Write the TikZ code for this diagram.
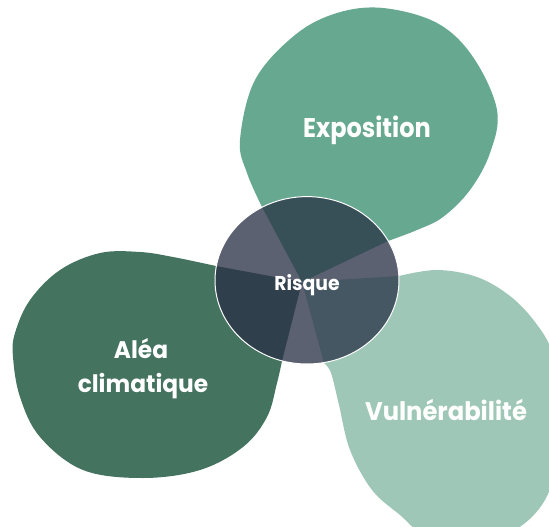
\documentclass[tikz,border=0pt]{standalone}
\usepackage{graphicx}
\usepackage{fontspec}
\setmainfont{Poppins}
\definecolor{expoC}{HTML}{66A890}
\definecolor{aleaC}{HTML}{44735F}
\definecolor{vulnC}{HTML}{9FC7B7}
\definecolor{riskC}{HTML}{5C6172}
\definecolor{riskExpoC}{HTML}{374F57}
\definecolor{riskAleaC}{HTML}{2F404C}
\definecolor{riskVulnC}{HTML}{455762}
\newcommand\pathexpo{(302,282) -- plot[smooth,tension=0.6] coordinates {(262,207) (247,173) (240,140) (255,80) (295,35) (337,13) (383,8) (437,23) (473,57) (497,110) (490,153) (470,190) (443,217) (417,230) (388,241)} -- cycle}
\newcommand\pathalea{(302,282) -- plot[smooth,tension=0.6] coordinates {(216,266) (173,257) (140,252) (100,253) (60,270) (30,300) (15,333) (13,357) (20,397) (40,437) (83,470) (143,478) (200,470) (243,447) (267,417) (277,383) (282,361)} -- cycle}
\newcommand\pathvuln{(302,282) -- plot[smooth,tension=0.6] coordinates {(399,276) (437,270) (477,277) (510,296) (535,322) (552,352) (560,400) (558,455) (545,500) (515,530) (470,545) (425,535) (400,515) (372,490) (350,450) (339,405) (331,373) (324,363)} -- cycle}
\tikzset{lbl/.style={text=white, inner sep=0pt, font=\bfseries}}
\begin{document}
\begin{tikzpicture}[x=1pt,y=-1pt]
\useasboundingbox (0,0) rectangle (549,527);
\clip (0,0) rectangle (549,527);
\fill[expoC] \pathexpo;
\fill[aleaC] \pathalea;
\fill[vulnC] \pathvuln;
\begin{scope}
\clip (307,280.3) ellipse [x radius=92, y radius=83.7];
\fill[riskC] (200,180) rectangle (420,380);
\fill[riskExpoC] \pathexpo;
\fill[riskAleaC] \pathalea;
\fill[riskVulnC] \pathvuln;
\end{scope}
\draw[white, line width=1pt] (307,280.3) ellipse [x radius=92, y radius=83.7];
\node[lbl, font=\bfseries\fontsize{27}{30}\selectfont, anchor=base] (expo) at (367,137.3) {\scalebox{0.89}[1]{Exposition}};
\node[lbl, font=\bfseries\fontsize{24}{28}\selectfont, anchor=base] (alea1) at (141,358) {\scalebox{0.97}[1]{Aléa}};
\node[lbl, font=\bfseries\fontsize{24}{28}\selectfont, anchor=base] (alea2) at (143,392) {\scalebox{0.97}[1]{climatique}};
\node[lbl, font=\bfseries\fontsize{25.5}{28}\selectfont, anchor=base] (vuln) at (446,420) {\scalebox{0.95}[1]{Vulnérabilité}};
\node[lbl, font=\bfseries\fontsize{20}{24}\selectfont, anchor=base] (risque) at (307,290) {\scalebox{0.94}[1]{Risque}};
\end{tikzpicture}
\end{document}
